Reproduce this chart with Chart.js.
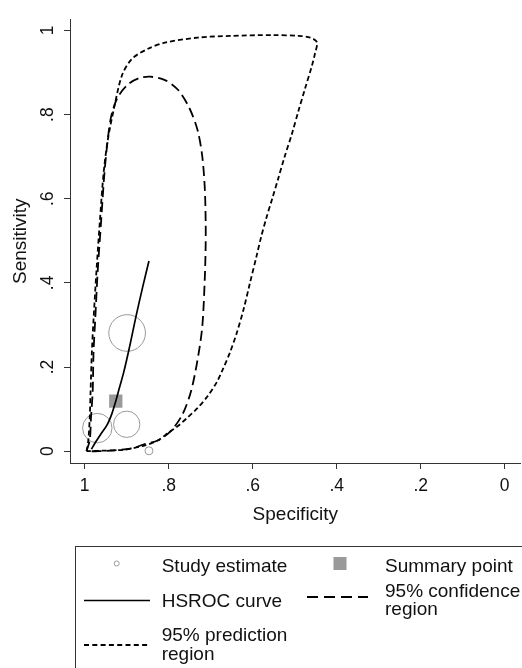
<!DOCTYPE html>
<html>
<head>
<meta charset="utf-8">
<script src="https://cdn.jsdelivr.net/npm/chart.js@4.4.1/dist/chart.umd.min.js"></script>
<style>
html, body { margin: 0; padding: 0; background: #fff; overflow: hidden; }
#wrap { position: relative; width: 540px; height: 668px; }
#c { position: absolute; left: 0; top: 0; }
#leg { position: absolute; left: 0; top: 0; }
#leg text { font-family: "Liberation Sans", Arial, sans-serif; font-size: 19px; fill: #111; }
</style>
</head>
<body>
<div id="wrap">
<canvas id="c" width="540" height="668"></canvas>
<svg id="leg" width="540" height="668" xmlns="http://www.w3.org/2000/svg">
  <rect x="75.5" y="546.5" width="449" height="140" fill="none" stroke="#333" stroke-width="1"/>
  <circle cx="116.7" cy="563.5" r="2.5" fill="none" stroke="#999" stroke-width="1"/>
  <text x="161.7" y="571.5">Study estimate</text>
  <rect x="333.5" y="557" width="13" height="13" fill="#9a9a9a"/>
  <text x="385" y="571.5">Summary point</text>
  <line x1="84" y1="600.5" x2="150" y2="600.5" stroke="#000" stroke-width="1.6"/>
  <text x="161.7" y="607">HSROC curve</text>
  <line x1="307" y1="597" x2="368" y2="597" stroke="#000" stroke-width="1.8" stroke-dasharray="11 6"/>
  <text x="385" y="596.5">95% confidence</text>
  <text x="385" y="614.5">region</text>
  <line x1="84" y1="645" x2="150" y2="645" stroke="#000" stroke-width="1.8" stroke-dasharray="5 3.3"/>
  <text x="161.7" y="641">95% prediction</text>
  <text x="161.7" y="660">region</text>
</svg>
</div>
<script>
// ---- data ----
const xTickValues = [0, 0.2, 0.4, 0.6, 0.8, 1];
const xTickLabels = ['0', '.2', '.4', '.6', '.8', '1'];
const yTickValues = [0, 0.2, 0.4, 0.6, 0.8, 1];
const yTickLabels = ['0', '.2', '.4', '.6', '.8', '1'];

// study estimates (specificity, sensitivity, relative weight)
const studySpec = [0.899, 0.970, 0.900, 0.847];
const studySens = [0.281, 0.055, 0.064, 0.001];
const studyWeight = [93, 60, 48, 4.4];

// summary point
const summarySpec = [0.926];
const summarySens = [0.119];

// HSROC curve
const hsrocSpec = [0.984, 0.975, 0.962, 0.946, 0.935, 0.926, 0.917, 0.907, 0.899, 0.891, 0.878, 0.862, 0.847];
const hsrocSens = [0.005, 0.020, 0.040, 0.064, 0.090, 0.119, 0.152, 0.188, 0.222, 0.258, 0.320, 0.390, 0.452];

// 95% confidence region
const confSpec = [0.996, 0.988, 0.985, 0.981, 0.979, 0.975, 0.969, 0.961, 0.953, 0.944, 0.936, 0.922, 0.899, 0.872, 0.844, 0.809, 0.778, 0.751, 0.731, 0.720, 0.714, 0.712, 0.712, 0.714, 0.720, 0.731, 0.747, 0.767, 0.794, 0.825, 0.860, 0.887, 0.930, 0.965, 0.996];
const confSens = [0.000, 0.026, 0.080, 0.142, 0.235, 0.312, 0.429, 0.545, 0.661, 0.750, 0.800, 0.840, 0.870, 0.886, 0.890, 0.882, 0.859, 0.816, 0.762, 0.700, 0.623, 0.545, 0.491, 0.413, 0.297, 0.219, 0.142, 0.088, 0.049, 0.026, 0.016, 0.007, 0.002, 0.000, 0.000];

// 95% prediction region
const predSpec = [0.995, 0.991, 0.988, 0.986, 0.983, 0.979, 0.972, 0.964, 0.955, 0.945, 0.930, 0.911, 0.887, 0.848, 0.809, 0.731, 0.654, 0.552, 0.490, 0.463, 0.447, 0.452, 0.459, 0.475, 0.491, 0.507, 0.524, 0.539, 0.553, 0.567, 0.580, 0.591, 0.607, 0.622, 0.638, 0.654, 0.671, 0.685, 0.708, 0.731, 0.755, 0.778, 0.802, 0.825, 0.856, 0.903, 0.965, 0.995];
const predSens = [0.000, 0.030, 0.080, 0.142, 0.235, 0.312, 0.429, 0.545, 0.661, 0.740, 0.816, 0.894, 0.933, 0.957, 0.971, 0.983, 0.987, 0.989, 0.987, 0.983, 0.972, 0.944, 0.916, 0.863, 0.809, 0.753, 0.700, 0.649, 0.602, 0.556, 0.509, 0.463, 0.398, 0.336, 0.281, 0.235, 0.195, 0.165, 0.130, 0.103, 0.080, 0.060, 0.043, 0.026, 0.014, 0.004, 0.001, 0.000];

// ---- build chart ----
const pts = (xs, ys) => xs.map((x, i) => ({ x: x, y: ys[i] }));
const FONT = '"Liberation Sans", Arial, sans-serif';
const AXIS = '#333';

new Chart(document.getElementById('c'), {
  type: 'scatter',
  data: {
    datasets: [
      { label: 'HSROC curve', data: pts(hsrocSpec, hsrocSens), showLine: true, borderColor: '#000', borderWidth: 1.7, pointRadius: 0, tension: 0.3, fill: false },
      { label: '95% confidence region', data: pts(confSpec, confSens), showLine: true, borderColor: '#000', borderWidth: 1.8, borderDash: [10, 5], pointRadius: 0, tension: 0.3, fill: false },
      { label: '95% prediction region', data: pts(predSpec, predSens), showLine: true, borderColor: '#000', borderWidth: 1.8, borderDash: [5, 3], pointRadius: 0, tension: 0.3, fill: false },
      { label: 'Summary point', data: pts(summarySpec, summarySens), pointStyle: 'rect', pointRadius: 9.4, backgroundColor: '#9a9a9a', borderColor: '#9a9a9a', borderWidth: 0 },
      { label: 'Study estimate', data: pts(studySpec, studySens), pointStyle: 'circle', pointRadius: studyWeight.map(w => 1.9 * Math.sqrt(w)), backgroundColor: 'rgba(0,0,0,0)', borderColor: '#999', borderWidth: 1 }
    ]
  },
  options: {
    responsive: false,
    animation: false,
    events: [],
    layout: { padding: { left: 0, top: 10, right: 10, bottom: 140 } },
    plugins: { legend: { display: false }, tooltip: { enabled: false } },
    scales: {
      x: {
        type: 'linear', reverse: true, min: -0.038, max: 1.035,
        afterBuildTicks: s => { s.ticks = xTickValues.map(v => ({ value: v })); },
        afterFit: s => { s.height = 65; },
        grid: { drawOnChartArea: false, drawTicks: true, tickLength: 6, tickColor: AXIS, color: AXIS },
        border: { display: true, color: AXIS, width: 1 },
        ticks: { autoSkip: false, maxRotation: 0, padding: 7, color: '#111', font: { family: FONT, size: 17.5 },
                 callback: (v, i) => xTickLabels[i] },
        title: { display: true, text: 'Specificity', color: '#111', font: { family: FONT, size: 19 }, padding: { top: 0, bottom: 2 } }
      },
      y: {
        type: 'linear', min: -0.028, max: 1.026,
        afterBuildTicks: s => { s.ticks = yTickValues.map(v => ({ value: v })); },
        afterFit: s => { s.width = 70; },
        grid: { drawOnChartArea: false, drawTicks: true, tickLength: 6, tickColor: AXIS, color: AXIS },
        border: { display: true, color: AXIS, width: 1 },
        ticks: { autoSkip: false, minRotation: 90, maxRotation: 90, crossAlign: 'center', padding: 9, color: '#111', font: { family: FONT, size: 17.5 },
                 callback: (v, i) => yTickLabels[i] },
        title: { display: true, text: 'Sensitivity', color: '#111', font: { family: FONT, size: 19 }, padding: { top: 9, bottom: 0 } }
      }
    }
  }
});
</script>
</body>
</html>
